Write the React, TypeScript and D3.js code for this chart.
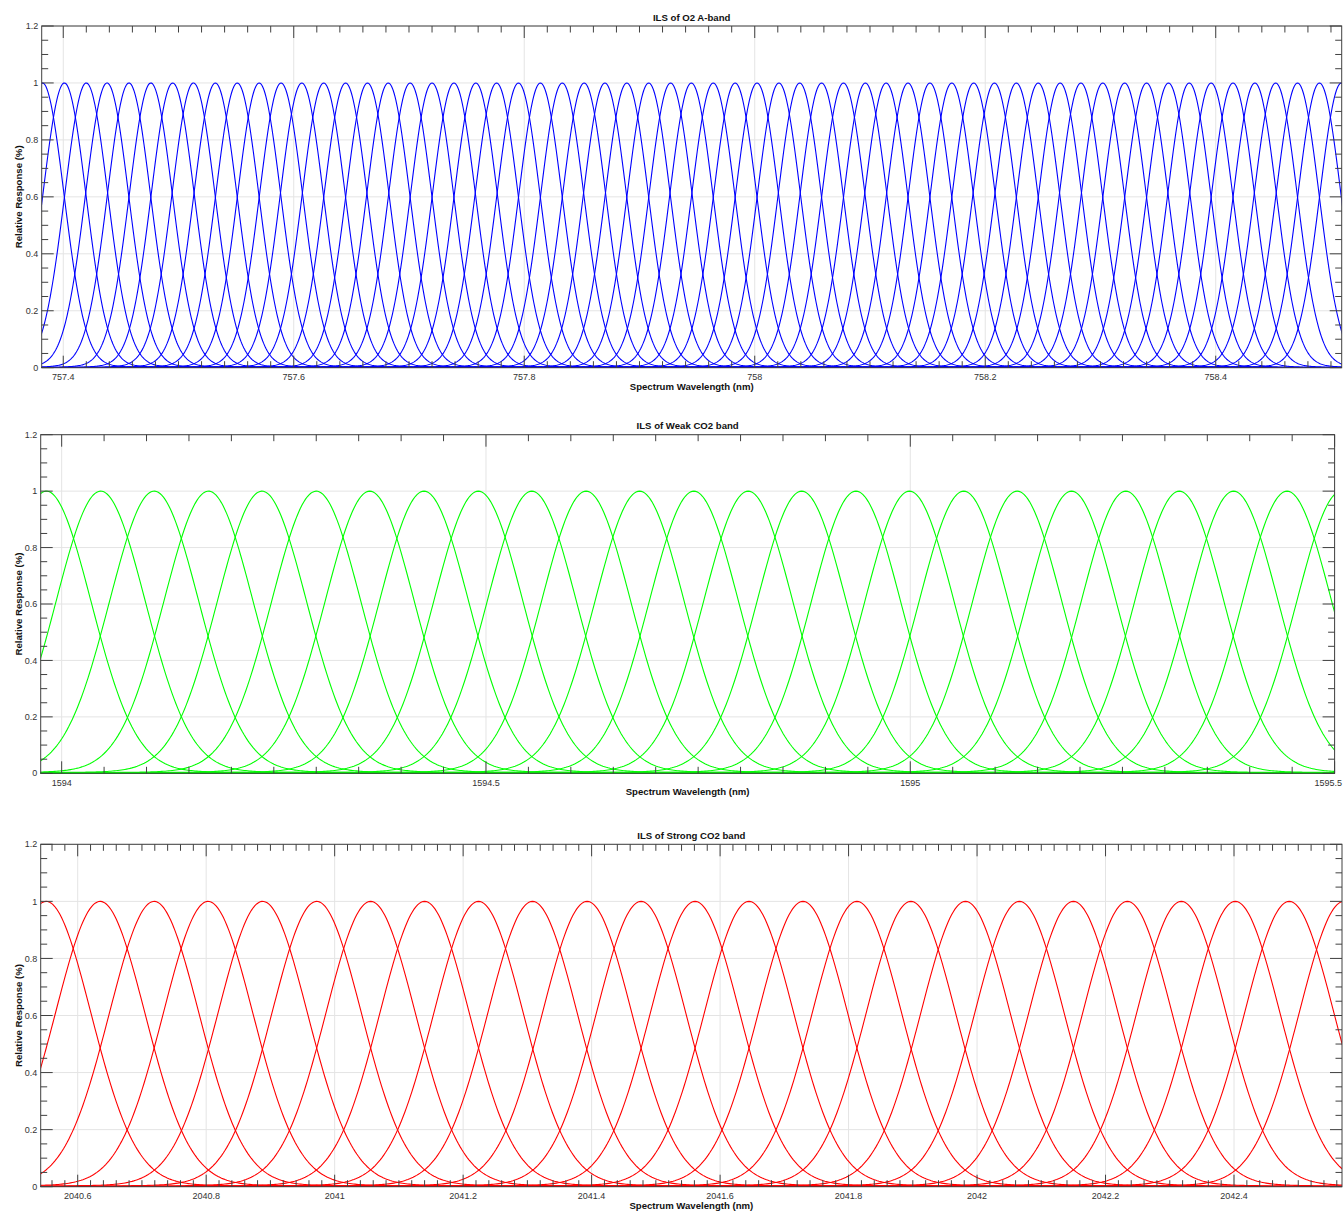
import React from 'react';
import * as d3 from 'd3';

// ---------- data ----------
const yTickValues = [0, 0.2, 0.4, 0.6, 0.8, 1, 1.2];
const yTickLabels = ['0', '0.2', '0.4', '0.6', '0.8', '1', '1.2'];

// O2 A-band ILS centres (nm)
const o2Centers = [
  757.382, 757.401, 757.420, 757.438, 757.457, 757.476, 757.495, 757.513, 757.532, 757.551,
  757.570, 757.589, 757.607, 757.626, 757.645, 757.664, 757.682, 757.701, 757.720, 757.739,
  757.758, 757.776, 757.795, 757.814, 757.833, 757.852, 757.870, 757.889, 757.908, 757.927,
  757.945, 757.964, 757.983, 758.002, 758.021, 758.039, 758.058, 758.077, 758.096, 758.114,
  758.133, 758.152, 758.171, 758.190, 758.208, 758.227, 758.246, 758.265, 758.283, 758.302,
  758.321, 758.340, 758.359, 758.377, 758.396, 758.415, 758.434, 758.452, 758.471, 758.490,
  758.509,
];
const o2Fwhm = 0.044;
const o2Domain = [757.3813, 758.5093];
const o2Ticks = [757.4, 757.6, 757.8, 758, 758.2, 758.4];
const o2TickLabels = ['757.4', '757.6', '757.8', '758', '758.2', '758.4'];
const o2MinorStep = 0.02;

// Weak CO2 band ILS centres (nm)
const wco2Centers = [
  1593.982, 1594.046, 1594.109, 1594.173, 1594.236, 1594.300, 1594.363, 1594.427, 1594.491,
  1594.554, 1594.618, 1594.681, 1594.745, 1594.809, 1594.872, 1594.936, 1594.999, 1595.063,
  1595.126, 1595.190, 1595.254, 1595.317, 1595.381, 1595.444, 1595.508,
];
const wco2Fwhm = 0.124;
const wco2Domain = [1593.9753, 1595.5];
const wco2Ticks = [1594, 1594.5, 1595, 1595.5];
const wco2TickLabels = ['1594', '1594.5', '1595', '1595.5'];
const wco2MinorStep = 0.05;

// Strong CO2 band ILS centres (nm)
const sco2Centers = [
  2040.551, 2040.635, 2040.719, 2040.803, 2040.888, 2040.972, 2041.056, 2041.140, 2041.224,
  2041.308, 2041.393, 2041.477, 2041.561, 2041.645, 2041.729, 2041.813, 2041.897, 2041.982,
  2042.066, 2042.150, 2042.234, 2042.318, 2042.402, 2042.486, 2042.571,
];
const sco2Fwhm = 0.164;
const sco2Domain = [2040.5424, 2042.5681];
const sco2Ticks = [2040.6, 2040.8, 2041, 2041.2, 2041.4, 2041.6, 2041.8, 2042, 2042.2, 2042.4];
const sco2TickLabels = ['2040.6', '2040.8', '2041', '2041.2', '2041.4', '2041.6', '2041.8', '2042', '2042.2', '2042.4'];
const sco2MinorStep = 0.02;

// ---------- layout ----------
const W = 1343;
const H = 1214;
const FONT = '"Liberation Sans", Arial, Helvetica, sans-serif';
const AXIS = '#404040';
const GRID = '#e4e4e4';

type PanelProps = {
  id: string;
  title: string;
  color: string;
  centers: number[];
  fwhm: number;
  domain: number[];
  ticks: number[];
  tickLabels: string[];
  minorStep: number;
  left: number;
  right: number;
  top: number;
  bottom: number;
};

function ils(dx: number, fwhm: number, spacing: number) {
  // Gaussian instrument line shape with a faint pedestal
  const g = Math.pow(2, -Math.pow((2 * dx) / fwhm, 2));
  const w = 6 * spacing;
  const ped = 0.008 * Math.max(0, 1 - Math.abs(dx) / w);
  return (g + ped) / 1.008;
}

function Panel(p: PanelProps) {
  const x = d3.scaleLinear().domain(p.domain).range([p.left, p.right]);
  const y = d3.scaleLinear().domain([0, 1.2]).range([p.bottom, p.top]);
  const spacing = (p.centers[p.centers.length - 1] - p.centers[0]) / (p.centers.length - 1);
  const line = d3
    .line<[number, number]>()
    .x((d) => x(d[0]))
    .y((d) => y(d[1]));

  const paths = p.centers.map((c) => {
    const half = Math.max(4 * p.fwhm, 7 * spacing);
    const lo = Math.max(p.domain[0] - p.fwhm, c - half);
    const hi = Math.min(p.domain[1] + p.fwhm, c + half);
    const step = p.fwhm / 60;
    const pts: [number, number][] = [];
    pts.push([p.domain[0] - p.fwhm, 0]);
    for (let v = lo; v <= hi; v += step) pts.push([v, ils(v - c, p.fwhm, spacing)]);
    pts.push([p.domain[1] + p.fwhm, 0]);
    return line(pts) || '';
  });

  const minor: number[] = [];
  const i0 = Math.ceil(p.domain[0] / p.minorStep - 1e-6);
  const i1 = Math.floor(p.domain[1] / p.minorStep + 1e-6);
  for (let i = i0; i <= i1; i++) minor.push(+(i * p.minorStep).toFixed(6));
  const yMinor = d3.range(0, 25).map((i) => i * 0.05);

  const MAJ = 12;
  const MIN = 6.5;
  const cx = (p.left + p.right) / 2;
  const cy = (p.top + p.bottom) / 2;
  const isMajorX = (v: number) => p.ticks.some((t) => Math.abs(t - v) < 1e-6);
  const isMajorY = (v: number) => yTickValues.some((t) => Math.abs(t - v) < 1e-6);

  return (
    <g>
      <defs>
        <clipPath id={p.id}>
          <rect x={p.left} y={p.top} width={p.right - p.left} height={p.bottom - p.top} />
        </clipPath>
      </defs>
      {/* grid */}
      {p.ticks.map((t, i) => (
        <line key={'gx' + i} x1={x(t)} x2={x(t)} y1={p.top} y2={p.bottom} stroke={GRID} strokeWidth={1} />
      ))}
      {yTickValues.map((t, i) => (
        <line key={'gy' + i} x1={p.left} x2={p.right} y1={y(t)} y2={y(t)} stroke={GRID} strokeWidth={1} />
      ))}
      {/* curves */}
      <g clipPath={`url(#${p.id})`}>
        {paths.map((d, i) => (
          <path key={i} d={d} fill="none" stroke={p.color} strokeWidth={1.1} />
        ))}
      </g>
      {/* box */}
      <rect x={p.left} y={p.top} width={p.right - p.left} height={p.bottom - p.top} fill="none" stroke={AXIS} strokeWidth={1} />
      {/* x ticks */}
      {minor.map((v, i) => {
        const L = isMajorX(v) ? MAJ : MIN;
        const xx = x(v);
        return (
          <g key={'xt' + i}>
            <line x1={xx} x2={xx} y1={p.bottom} y2={p.bottom - L} stroke={AXIS} strokeWidth={1} />
            <line x1={xx} x2={xx} y1={p.top} y2={p.top + L} stroke={AXIS} strokeWidth={1} />
          </g>
        );
      })}
      {/* y ticks */}
      {yMinor.map((v, i) => {
        const L = isMajorY(v) ? MAJ : MIN;
        const yy = y(v);
        return (
          <g key={'yt' + i}>
            <line x1={p.left} x2={p.left + L} y1={yy} y2={yy} stroke={AXIS} strokeWidth={1} />
            <line x1={p.right} x2={p.right - L} y1={yy} y2={yy} stroke={AXIS} strokeWidth={1} />
          </g>
        );
      })}
      {/* tick labels */}
      {p.ticks.map((t, i) => {
        const xx = x(t);
        const tooFar = xx + 14 > W;
        return (
          <text key={'xl' + i} x={tooFar ? W - 1 : xx} y={p.bottom + 12.3} textAnchor={tooFar ? 'end' : 'middle'} fontSize={9} fill="#333" fontFamily={FONT}>
            {p.tickLabels[i]}
          </text>
        );
      })}
      {yTickValues.map((t, i) => (
        <text key={'yl' + i} x={p.left - 3.5} y={y(t)} dy="0.35em" textAnchor="end" fontSize={9} fill="#333" fontFamily={FONT}>
          {yTickLabels[i]}
        </text>
      ))}
      {/* title and labels */}
      <text x={cx} y={p.top - 5.5} textAnchor="middle" fontSize={9.6} fontWeight="bold" fill="#111" fontFamily={FONT}>
        {p.title}
      </text>
      <text x={cx} y={p.bottom + 22} textAnchor="middle" fontSize={9.6} fontWeight="bold" fill="#111" fontFamily={FONT}>
        Spectrum Wavelength (nm)
      </text>
      <text transform={`translate(21.5,${cy}) rotate(-90)`} textAnchor="middle" fontSize={9.6} fontWeight="bold" fill="#111" fontFamily={FONT}>
        Relative Response (%)
      </text>
    </g>
  );
}

export default function App() {
  return (
    <svg
      width={W}
      height={H}
      style={{ position: 'absolute', left: 0, top: 0, background: '#fff' }}
    >
      <rect x={0} y={0} width={W} height={H} fill="#fff" />
      <Panel
        id="c1" title="ILS of O2 A-band" color="#0000ff"
        centers={o2Centers} fwhm={o2Fwhm} domain={o2Domain}
        ticks={o2Ticks} tickLabels={o2TickLabels} minorStep={o2MinorStep}
        left={41.7} right={1341.7} top={26} bottom={367.7}
      />
      <Panel
        id="c2" title="ILS of Weak CO2 band" color="#00ff00"
        centers={wco2Centers} fwhm={wco2Fwhm} domain={wco2Domain}
        ticks={wco2Ticks} tickLabels={wco2TickLabels} minorStep={wco2MinorStep}
        left={40.7} right={1334.6} top={434.7} bottom={773.3}
      />
      <Panel
        id="c3" title="ILS of Strong CO2 band" color="#ff0000"
        centers={sco2Centers} fwhm={sco2Fwhm} domain={sco2Domain}
        ticks={sco2Ticks} tickLabels={sco2TickLabels} minorStep={sco2MinorStep}
        left={40.7} right={1342} top={844.3} bottom={1186.7}
      />
    </svg>
  );
}
